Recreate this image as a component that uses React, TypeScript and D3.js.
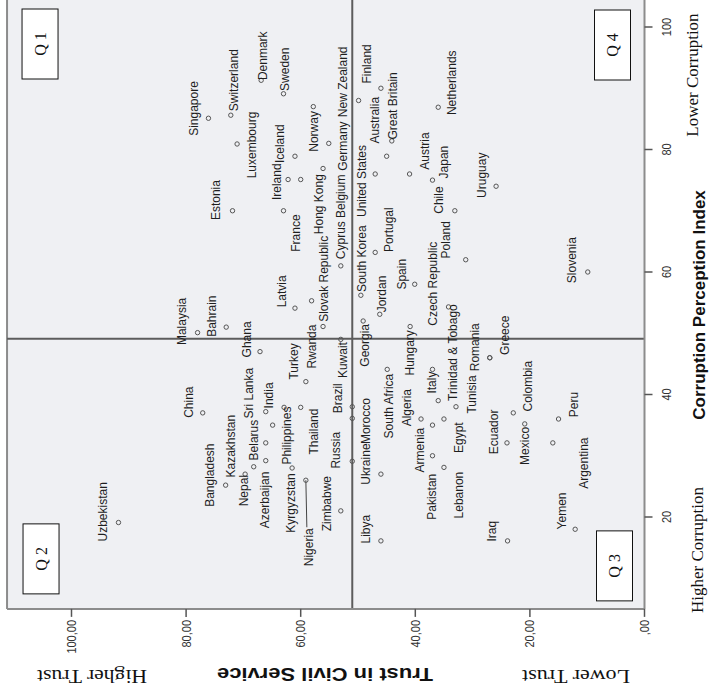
import React from "react";
import * as d3 from "d3";

// Countries with trust in civil service (%) and corruption perception index (0-100)
const countries = [
  "Singapore", "Switzerland", "Denmark", "Sweden", "Luxembourg", "Iceland", "Ireland", "France",
  "Belgium", "Norway", "Hong Kong", "Germany", "New Zealand", "Finland", "Australia", "Great Britain",
  "United States", "Netherlands", "Austria", "Japan", "Chile", "Poland", "Uruguay", "Portugal",
  "Spain", "Czech Republic", "Jordan", "South Korea", "Cyprus", "Slovak Republic", "Latvia", "Rwanda",
  "Slovenia", "Estonia", "Malaysia", "Bahrain", "Kuwait", "Georgia", "Hungary", "Ghana",
  "Turkey", "China", "Bangladesh", "Kazakhstan", "Nepal", "Belarus", "Sri Lanka", "India",
  "Azerbaijan", "Philippines", "Kyrgyzstan", "Thailand", "Nigeria", "Zimbabwe", "Russia", "Brazil",
  "Morocco", "Ukraine", "Uzbekistan", "Libya", "South Africa", "Algeria", "Italy", "Armenia",
  "Pakistan", "Lebanon", "Egypt", "Trinidad & Tobago", "Tunisia", "Romania", "Greece", "Ecuador",
  "Colombia", "Mexico", "Peru", "Argentina", "Iraq", "Yemen",
];

const trustValues = [
  76.1, 72.2, 66.9, 63.0, 71.1, 61.0, 62.2, 63.0,
  60.0, 57.8, 56.1, 55.1, 49.9, 46.0, 45.0, 44.1,
  47.0, 36.0, 41.0, 37.0, 33.1, 31.2, 25.9, 47.0,
  40.1, 34.2, 46.2, 49.5, 53.0, 56.1, 61.0, 58.1,
  9.9, 71.9, 78.0, 73.0, 53.0, 49.1, 40.9, 67.1,
  59.1, 77.1, 66.1, 73.1, 69.7, 68.2, 64.9, 66.1,
  66.1, 62.9, 61.5, 60.0, 59.1, 53.0, 51.0, 51.0,
  51.0, 46.0, 91.8, 46.0, 44.9, 39.0, 37.0, 37.0,
  37.0, 35.0, 35.0, 32.9, 36.0, 27.0, 27.0, 24.0,
  22.9, 20.9, 15.0, 16.0, 23.9, 12.1,
];

const cpiValues = [
  85.1, 85.6, 91.3, 89.1, 80.9, 78.9, 75.1, 70.0,
  75.1, 87.0, 76.9, 81.0, 88.0, 90.0, 78.9, 81.4,
  76.0, 86.9, 76.0, 75.0, 70.0, 62.0, 74.0, 63.2,
  58.0, 54.3, 53.1, 56.2, 61.0, 51.1, 54.1, 55.3,
  60.0, 70.0, 50.1, 51.0, 49.0, 52.0, 51.1, 47.0,
  42.1, 37.0, 32.1, 25.2, 27.0, 28.2, 35.0, 37.2,
  29.2, 37.9, 28.0, 37.9, 26.0, 21.0, 29.1, 38.0,
  36.1, 27.0, 19.1, 16.1, 44.1, 36.0, 44.1, 35.0,
  30.0, 28.1, 36.0, 38.0, 39.0, 46.0, 46.0, 32.1,
  37.0, 35.2, 36.0, 32.1, 16.1, 18.0,
];

// Means drawn as reference lines
const trustMean = 51.0;
const cpiMean = 49.1;

const cpiTicks = [20, 40, 60, 80, 100];
const trustTicks = [0, 20, 40, 60, 80, 100];
const trustTickLabels = [",00", "20,00", "40,00", "60,00", "80,00", "100,00"];

const quadrants = ["Q 1", "Q 2", "Q 3", "Q 4"];

// Where each point label sits relative to its marker (px, chart orientation)
const labelOffsets: Record<string, [number, number]> = {
  Singapore: [9.8, -15.3], Switzerland: [35, 3], Denmark: [24.5, 1], Sweden: [24.5, 0.7],
  Luxembourg: [-1, 14.7], Iceland: [12.5, -16], Ireland: [-2.2, -11.6], France: [-22.3, 11.7],
  Belgium: [-16.7, 39.8], Norway: [-24.8, 0], "Hong Kong": [-35.7, -5], Germany: [-2.7, 13.5],
  "New Zealand": [18.7, -15.8], Finland: [24.3, -15], Australia: [36, -12.7], "Great Britain": [35, 1],
  "United States": [-7, -14], Netherlands: [24.5, 13], Austria: [23, 14.7], Japan: [18, 11.3],
  Chile: [10.7, -16], Poland: [20, -20], Uruguay: [11, -14.3], Portugal: [22.7, 13],
  Spain: [10, -13], "Czech Republic": [23.2, -16.3], Jordan: [20.3, 1.7], "South Korea": [36.5, 0.5],
  Cyprus: [25.7, -0.5], "Slovak Republic": [47.7, 0.7], Latvia: [16.8, -13.3], Rwanda: [-45.8, 0],
  Slovenia: [11.8, -16], Estonia: [10.7, -16.7], Malaysia: [11.2, -16], Bahrain: [11, -15],
  Kuwait: [-20.7, 2], Georgia: [-24.3, 1.7], Hungary: [-26.3, -1], Ghana: [12.2, -13.3],
  Turkey: [20.2, -12.7], China: [10.7, -14.4], Bangladesh: [-32.3, -56], Kazakhstan: [39, 4.3],
  Nepal: [-16.5, -1.7], Belarus: [26.7, -0.7], "Sri Lanka": [32, -24.4], India: [16.2, 2.3],
  Azerbaijan: [-39.3, -1], Philippines: [-28.2, 2.7], Kyrgyzstan: [-35, -2], Thailand: [-24.2, 12.6],
  Nigeria: [-67, 3], Zimbabwe: [7.2, -14], Russia: [11, -17], Brazil: [8.5, -15.3],
  Morocco: [-2.7, 13], Ukraine: [10, -15.7], Uzbekistan: [10.7, -16.6], Libya: [11.7, -15.7],
  "South Africa": [-36.7, 1], Algeria: [11.3, -14.3], Italy: [-13.2, -1], Armenia: [-25, -12.7],
  Pakistan: [-41, -1], Lebanon: [-27.7, 14.3], Egypt: [-18.7, 14.3], "Trinidad & Tobago": [54.2, -4],
  Tunisia: [6.2, 33.4], Romania: [10.5, -15], Greece: [22.5, 15], Ecuador: [11, -14],
  Colombia: [26.7, 13.7], Mexico: [-22, 0], Peru: [14.5, 15], Argentina: [-20.3, 30.6],
  Iraq: [9.7, -16], Yemen: [18.3, -13.3],
};

// Labels joined to their marker by a leader line
const leaderLabels = new Set(["Nigeria"]);

const SANS = "'Liberation Sans', Arial, Helvetica, sans-serif";
const SERIF = "'Liberation Serif', 'Times New Roman', Times, serif";

export default function App() {
  // The chart is laid out as a normal scatter (CPI across, trust up) and then
  // turned a quarter turn counter-clockwise onto the page.
  const W = 698;
  const H = 712;

  const x = d3.scaleLinear().domain([0, 100]).range([58.5, 671]);
  const y = d3.scaleLinear().domain([0, 100]).range([644.5, 71.5]);

  const left = x(5);
  const right = W;
  const top = y(111.25);
  const bottom = y(0);

  const points = countries.map((name, i) => ({
    name,
    px: x(cpiValues[i]),
    py: y(trustValues[i]),
  }));

  const boxW = 70;
  const boxH = 36;
  const boxes = [
    { label: quadrants[0], bx: right - 9 - boxW, by: top + 15 },
    { label: quadrants[1], bx: left + 15, by: top + 16 },
    { label: quadrants[2], bx: left + 8, by: bottom - 12 - boxH },
    { label: quadrants[3], bx: right - 10 - boxW, by: bottom - 14 - boxH },
  ];

  const axisGrey = "#8c8c8c";

  return (
    <svg
      width={712}
      height={698}
      style={{ position: "absolute", left: 0, top: 0, background: "#ffffff" }}
    >
      <g transform={`translate(0,${W}) rotate(-90)`}>
        <rect x={0} y={0} width={W} height={H} fill="#ffffff" />
        {/* plot area */}
        <rect x={left} y={top} width={right - left} height={bottom - top} fill="#eff0f3" />
        <line x1={left} x2={right} y1={top} y2={top} stroke={axisGrey} strokeWidth={2} />

        {/* reference lines at the means */}
        <line x1={left} x2={right} y1={y(trustMean)} y2={y(trustMean)} stroke="#5c5c5c" strokeWidth={2} />
        <line x1={x(cpiMean)} x2={x(cpiMean)} y1={top} y2={bottom} stroke="#5c5c5c" strokeWidth={2} />

        {/* axes */}
        <line x1={left} x2={right} y1={bottom} y2={bottom} stroke={axisGrey} strokeWidth={2} />
        <line x1={left} x2={left} y1={top} y2={bottom} stroke={axisGrey} strokeWidth={2} />

        {cpiTicks.map((t) => (
          <g key={`cx${t}`}>
            <line x1={x(t)} x2={x(t)} y1={bottom} y2={bottom + 8} stroke="#555" strokeWidth={1.5} />
            <text
              transform={`translate(${x(t)},667) scale(1,1.15)`}
              dy="0.35em"
              textAnchor="middle"
              fontFamily={SANS}
              fontSize={11}
              fill="#333"
            >
              {String(t)}
            </text>
          </g>
        ))}

        {trustTicks.map((t, i) => (
          <g key={`ty${t}`}>
            <line x1={left} x2={left - 8} y1={y(t)} y2={y(t)} stroke="#555" strokeWidth={1.5} />
            <text
              transform={`translate(78,${y(t)}) scale(1,1.15)`}
              dy="0.35em"
              textAnchor="end"
              fontFamily={SANS}
              fontSize={11}
              fill="#333"
            >
              {trustTickLabels[i]}
            </text>
          </g>
        ))}

        {/* axis titles and end notes */}
        <text
          x={(left + right) / 2 - 0.5}
          y={699}
          dy="0.35em"
          textAnchor="middle"
          fontFamily={SANS}
          fontWeight="bold"
          fontSize={17}
          fill="#111"
        >
          Corruption Perception Index
        </text>
        <text x={148} y={697} dy="0.35em" textAnchor="middle" fontFamily={SERIF} fontSize={17} fill="#111">
          Higher Corruption
        </text>
        <text x={623} y={692} dy="0.35em" textAnchor="middle" fontFamily={SERIF} fontSize={17} fill="#111">
          Lower Corruption
        </text>

        <text
          transform={`translate(23.5,325) rotate(-90)`}
          dy="0.35em"
          textAnchor="middle"
          fontFamily={SANS}
          fontWeight="bold"
          fontSize={19}
          textLength={216}
          lengthAdjust="spacingAndGlyphs"
          fill="#111"
        >
          Trust in Civil Service
        </text>
        <text
          transform={`translate(22,92) rotate(-90)`}
          dy="0.35em"
          textAnchor="middle"
          fontFamily={SERIF}
          fontSize={18}
          textLength={110}
          lengthAdjust="spacingAndGlyphs"
          fill="#111"
        >
          Higher Trust
        </text>
        <text
          transform={`translate(22,576) rotate(-90)`}
          dy="0.35em"
          textAnchor="middle"
          fontFamily={SERIF}
          fontSize={18}
          textLength={108}
          lengthAdjust="spacingAndGlyphs"
          fill="#111"
        >
          Lower Trust
        </text>

        {/* quadrant boxes */}
        {boxes.map((b) => (
          <g key={b.label}>
            <rect x={b.bx} y={b.by} width={boxW} height={boxH} fill="#ffffff" stroke="#111" strokeWidth={1} />
            <text
              x={b.bx + boxW / 2}
              y={b.by + boxH / 2}
              dy="0.35em"
              textAnchor="middle"
              fontFamily={SERIF}
              fontSize={16}
              fill="#111"
            >
              {b.label}
            </text>
          </g>
        ))}

        {/* leader lines */}
        {points
          .filter((p) => leaderLabels.has(p.name))
          .map((p) => {
            const [dx, dy] = labelOffsets[p.name];
            return (
              <line
                key={`lead-${p.name}`}
                x1={p.px}
                y1={p.py}
                x2={p.px + dx + 20}
                y2={p.py + dy - 2}
                stroke="#444"
                strokeWidth={1}
              />
            );
          })}

        {/* markers */}
        {points.map((p) => (
          <circle key={`pt-${p.name}`} cx={p.px} cy={p.py} r={2.2} fill="none" stroke="#555" strokeWidth={1} />
        ))}

        {/* point labels */}
        {points.map((p) => {
          const [dx, dy] = labelOffsets[p.name] || [0, -14];
          return (
            <text
              key={`lb-${p.name}`}
              transform={`translate(${p.px + dx},${p.py + dy}) scale(1,1.1)`}
              dy="0.35em"
              textAnchor="middle"
              fontFamily={SANS}
              fontSize={12}
              fill="#1e1e1e"
            >
              {p.name}
            </text>
          );
        })}
      </g>
    </svg>
  );
}
